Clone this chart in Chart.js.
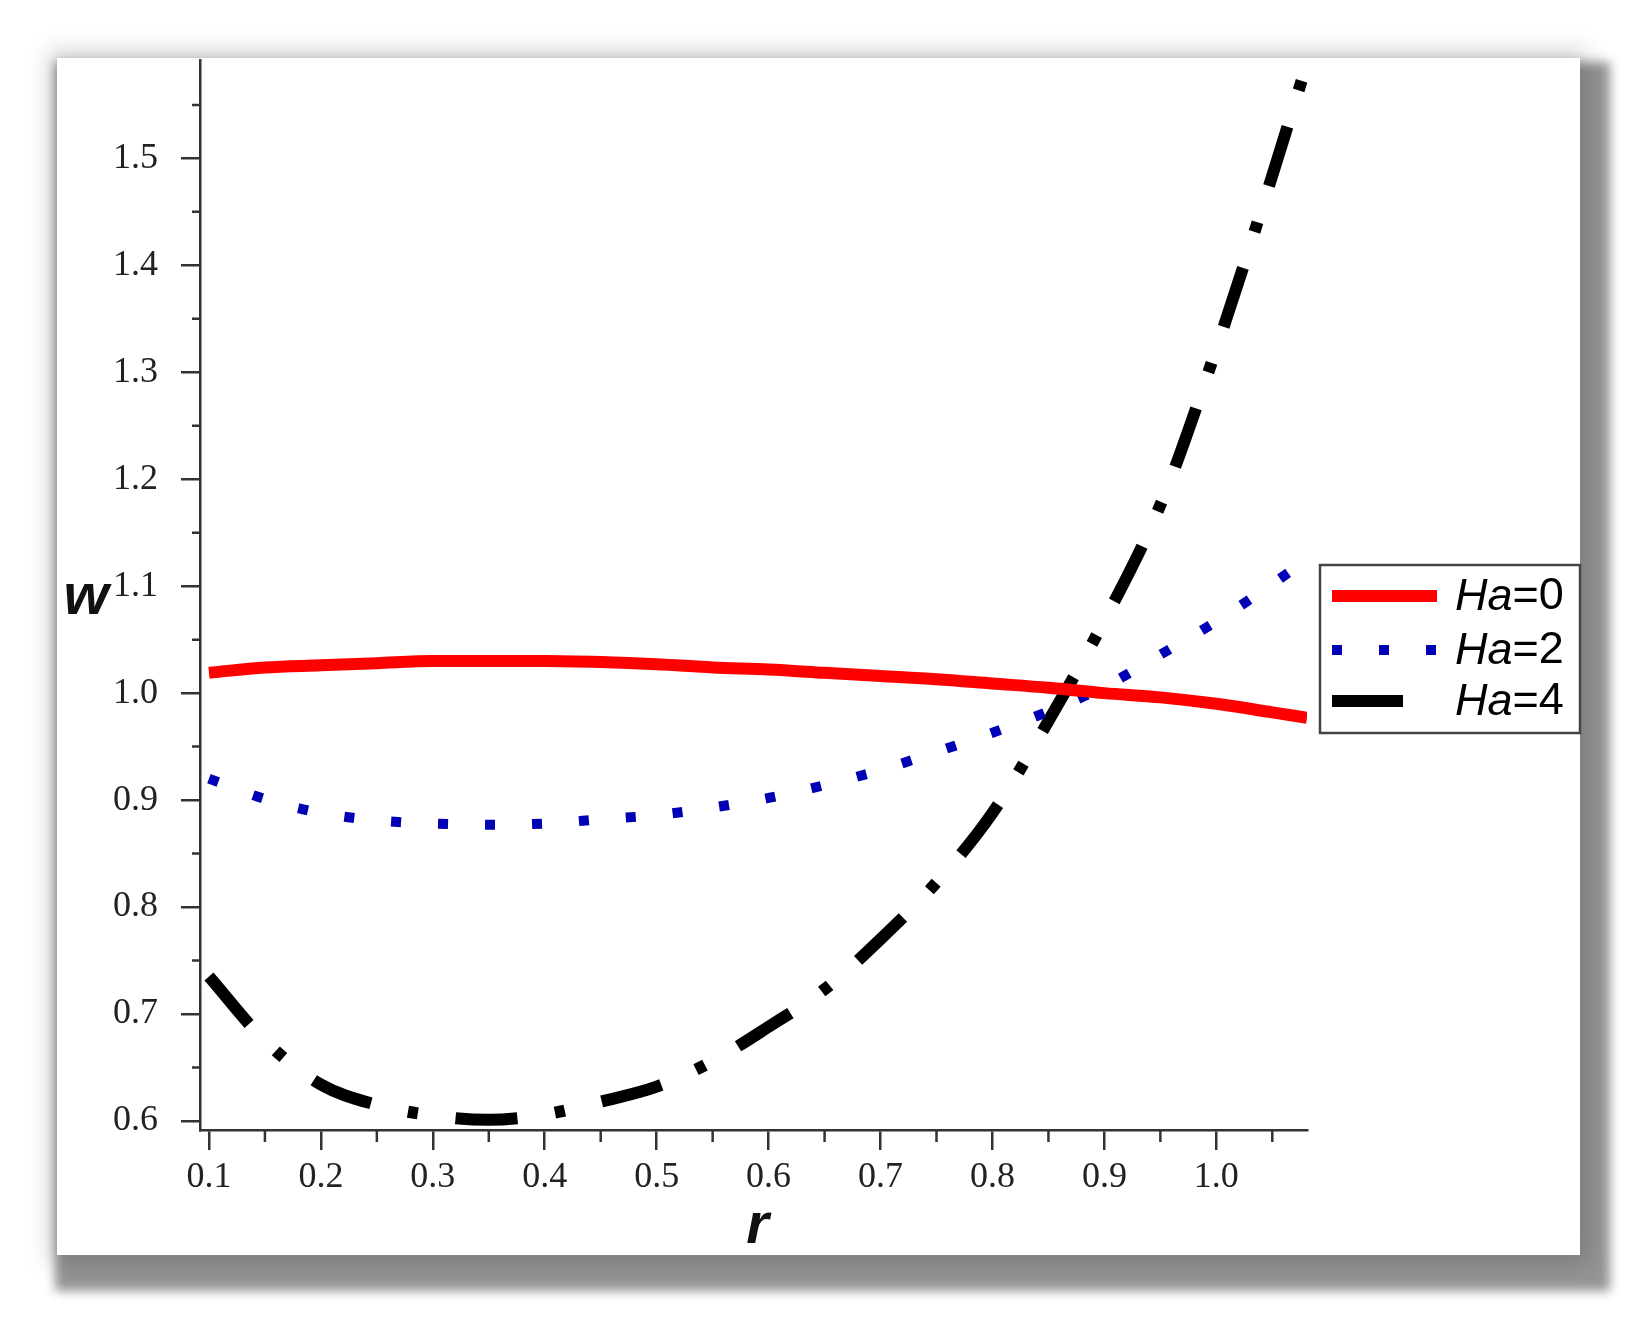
<!DOCTYPE html>
<html>
<head>
<meta charset="utf-8">
<script src="https://cdn.jsdelivr.net/npm/chart.js@4.4.1/dist/chart.umd.min.js"></script>
<style>
  html, body { margin:0; padding:0; background:#fff; }
  body { width:1651px; height:1321px; position:relative; overflow:hidden; }
  #panel {
    position:absolute; left:57px; top:58px; width:1523px; height:1197px; background:#fff;
    box-shadow: 0 0 22px 8px rgba(0,0,0,0.17), 14px 20px 10px 16px rgba(0,0,0,0.42);
  }
  #wrap { position:absolute; left:0; top:0; width:1651px; height:1321px; }
</style>
</head>
<body>
<div id="panel"></div>
<div id="wrap"><canvas id="c"></canvas></div>
<script>
// ==== データ ====
const rValues = [0.1, 0.15, 0.2, 0.25, 0.3, 0.35, 0.4, 0.45, 0.5, 0.55, 0.6, 0.65, 0.7, 0.75, 0.8, 0.85, 0.9, 0.95, 1.0, 1.05, 1.081];
const wHa0 = [1.019, 1.024, 1.026, 1.028, 1.030, 1.030, 1.030, 1.029, 1.027, 1.024, 1.022, 1.019, 1.016, 1.013, 1.009, 1.005, 1.000, 0.996, 0.990, 0.982, 0.977];
const wHa2 = [0.920, 0.901, 0.888, 0.881, 0.878, 0.877, 0.878, 0.882, 0.886, 0.893, 0.902, 0.914, 0.928, 0.945, 0.963, 0.983, 1.006, 1.036, 1.067, 1.102, 1.125];
const wHa4 = [0.735, 0.675, 0.634, 0.615, 0.605, 0.601, 0.606, 0.618, 0.632, 0.656, 0.688, 0.723, 0.770, 0.823, 0.888, 0.974, 1.068, 1.176, 1.322, 1.484, 1.589];
const seriesNames = ['0', '2', '4']; // Ha の値

// 目盛り
const xMajor = [0.1, 0.2, 0.3, 0.4, 0.5, 0.6, 0.7, 0.8, 0.9, 1.0];
const xMinor = [0.15, 0.25, 0.35, 0.45, 0.55, 0.65, 0.75, 0.85, 0.95, 1.05];
const yMajor = [0.6, 0.7, 0.8, 0.9, 1.0, 1.1, 1.2, 1.3, 1.4, 1.5];
const yMinor = [0.65, 0.75, 0.85, 0.95, 1.05, 1.15, 1.25, 1.35, 1.45, 1.55];

const X_MIN = 0.092, X_MAX = 1.081;
const Y_MIN = 0.5915, Y_MAX = 1.592;

/* ===== 設定 ===== */
const AXIS_COLOR = '#333';
const TICK_FONT = { family: '"Liberation Serif", "Times New Roman", serif', size: 36 };
const STYLES = [
  { color: '#ff0000', width: 12, dash: [],               legendDash: [] },
  { color: '#0000b4', width: 10, dash: [10, 37],         legendDash: [10, 37] },
  { color: '#000000', width: 12, dash: [62, 38, 10, 38], legendDash: [71, 500] }
];

const toPoints = (ys) => rValues.map((r, i) => ({ x: r, y: ys[i] }));

/* ===== 副目盛り・軸名・凡例 ===== */
const decorPlugin = {
  id: 'decor',
  afterDraw(c) {
    const ctx = c.ctx, xs = c.scales.x, ys = c.scales.y, a = c.chartArea;
    ctx.save();

    // 副目盛り
    ctx.strokeStyle = AXIS_COLOR;
    ctx.lineWidth = 2.5;
    ctx.beginPath();
    xMinor.forEach(v => { const px = xs.getPixelForValue(v); ctx.moveTo(px, a.bottom); ctx.lineTo(px, a.bottom + 12); });
    yMinor.forEach(v => { const py = ys.getPixelForValue(v); ctx.moveTo(a.left - 8, py); ctx.lineTo(a.left, py); });
    ctx.stroke();

    // 軸名
    ctx.fillStyle = '#111';
    ctx.font = 'italic bold 58px "Liberation Sans", Arial, sans-serif';
    ctx.textAlign = 'center';
    ctx.textBaseline = 'alphabetic';
    ctx.fillText('w', 86, (a.top + a.bottom) / 2 + 19);
    ctx.fillText('r', (a.left + a.right) / 2 + 4, 1243);

    // 凡例
    const bx = 1320, by = 565, bw = 260, bh = 168;
    ctx.fillStyle = '#fff';
    ctx.fillRect(bx, by, bw, bh);
    ctx.strokeStyle = '#444';
    ctx.lineWidth = 2.5;
    ctx.strokeRect(bx, by, bw, bh);

    const rowsY = [596, 650, 701];
    c.data.datasets.forEach((ds, i) => {
      const st = STYLES[i];
      const y = rowsY[i];
      ctx.save();
      ctx.strokeStyle = st.color;
      ctx.lineWidth = st.width;
      ctx.lineCap = 'butt';
      ctx.setLineDash(st.legendDash);
      ctx.beginPath();
      ctx.moveTo(1332, y);
      ctx.lineTo(1437, y);
      ctx.stroke();
      ctx.restore();

      ctx.fillStyle = '#000';
      ctx.textAlign = 'left';
      ctx.textBaseline = 'middle';
      ctx.font = 'italic 45px "Liberation Sans", Arial, sans-serif';
      ctx.fillText('Ha', 1455, y + 1);
      const w = ctx.measureText('Ha').width;
      ctx.font = '45px "Liberation Sans", Arial, sans-serif';
      ctx.fillText('=' + seriesNames[i], 1455 + w, y + 1);
    });

    ctx.restore();
  }
};

const ctx = document.getElementById('c').getContext('2d');
new Chart(ctx, {
  type: 'line',
  data: {
    datasets: [wHa0, wHa2, wHa4].map((ys, i) => ({
      label: 'Ha=' + seriesNames[i],
      data: toPoints(ys),
      borderColor: STYLES[i].color,
      borderWidth: STYLES[i].width,
      borderDash: STYLES[i].dash,
      borderCapStyle: 'butt',
      borderJoinStyle: 'round',
      cubicInterpolationMode: 'monotone',
      pointRadius: 0,
      fill: false
    }))
  },
  options: {
    responsive: true,
    maintainAspectRatio: false,
    animation: false,
    layout: { padding: { left: 0, top: 60, right: 344, bottom: 0 } },
    scales: {
      x: {
        type: 'linear', min: X_MIN, max: X_MAX,
        afterBuildTicks: (s) => { s.ticks = xMajor.map(v => ({ value: v })); },
        afterFit: (s) => { s.height = 191; },
        grid: { drawOnChartArea: false, drawTicks: true, tickLength: 20, color: AXIS_COLOR, lineWidth: 2.5 },
        border: { display: true, color: AXIS_COLOR, width: 2.5 },
        ticks: { font: TICK_FONT, color: '#222', padding: 6, maxRotation: 0, autoSkip: false,
                 callback: (v) => Number(v).toFixed(1) }
      },
      y: {
        type: 'linear', min: Y_MIN, max: Y_MAX,
        afterBuildTicks: (s) => { s.ticks = yMajor.map(v => ({ value: v })); },
        afterFit: (s) => { s.width = 200; },
        grid: { drawOnChartArea: false, drawTicks: true, tickLength: 19, color: AXIS_COLOR, lineWidth: 2.5 },
        border: { display: true, color: AXIS_COLOR, width: 2.5 },
        ticks: { font: TICK_FONT, color: '#222', padding: 23, autoSkip: false,
                 callback: (v) => Number(v).toFixed(1) }
      }
    },
    plugins: { legend: { display: false }, tooltip: { enabled: false } }
  },
  plugins: [decorPlugin]
});
</script>
</body>
</html>
